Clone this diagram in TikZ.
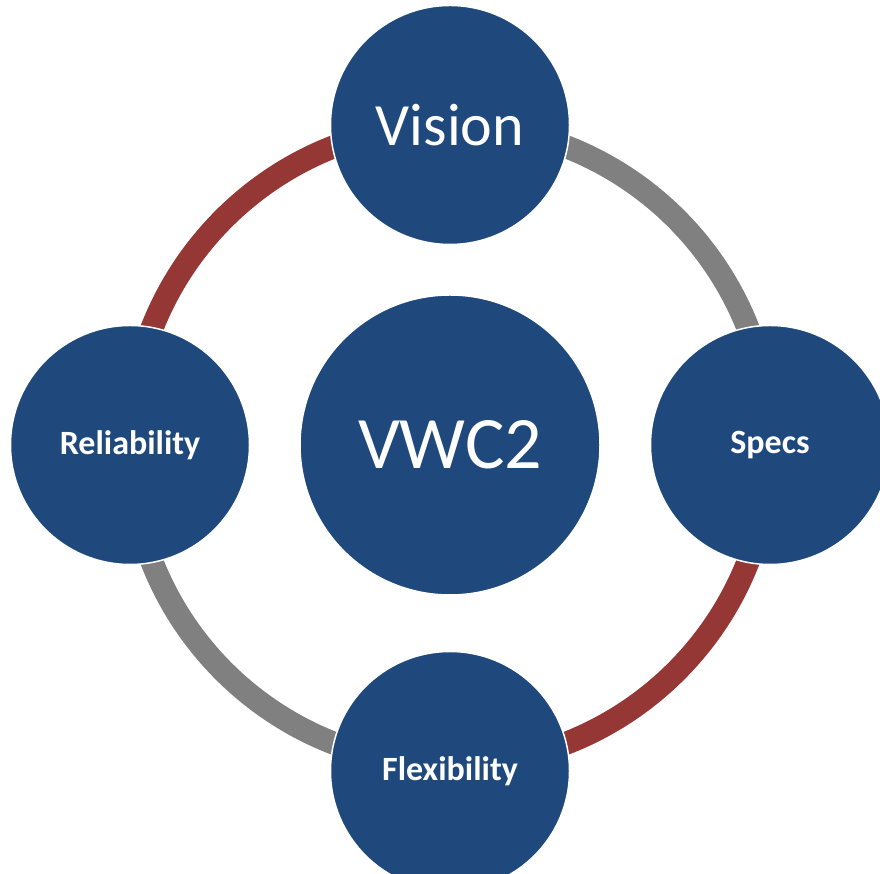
\documentclass[tikz,border=0pt]{standalone}
\usepackage{fontspec}
\setmainfont{Carlito}
\usetikzlibrary{backgrounds}

\definecolor{vwcblue}{RGB}{31,73,125}
\definecolor{ringred}{RGB}{149,55,53}
\definecolor{ringgray}{RGB}{128,128,128}

\begin{document}
\begin{tikzpicture}[x=1pt, y=1pt,
    ball/.style={circle, fill=vwcblue, draw=white, line width=1.5pt, text=white,
                 minimum size=239pt, inner sep=0pt},
    smallball/.style={ball, font=\fontsize{34}{38}\selectfont\bfseries},
    ring/.style={line width=23pt}]
    \useasboundingbox (0,0) rectangle (880,874);
    \clip (0,0) rectangle (880,874);
    % hub and the four satellites
    \node (VWC) [ball, minimum size=300pt, font=\fontsize{74}{80}\selectfont] at (450,429) {VWC2};
    \node (Vision) [ball, font=\fontsize{60}{66}\selectfont] at (450,749) {Vision};
    \node (Specs) [smallball] at (770,429) {Specs};
    \node (Reliability) [smallball] at (130,429) {Reliability};
    \node (Flexibility) [smallball] at (450,103) {Flexibility};
    % the ring behind them
    \begin{pgfonlayer}{background}
      \draw[ring, ringgray] (VWC.center) ++(0:320) arc[start angle=0, end angle=90, radius=320];
      \draw[ring, ringred] (VWC.center) ++(90:320) arc[start angle=90, end angle=180, radius=320];
      \draw[ring, ringgray] (VWC.center) ++(180:320) arc[start angle=180, end angle=270, radius=320];
      \draw[ring, ringred] (VWC.center) ++(270:320) arc[start angle=270, end angle=360, radius=320];
    \end{pgfonlayer}
\end{tikzpicture}
\end{document}
